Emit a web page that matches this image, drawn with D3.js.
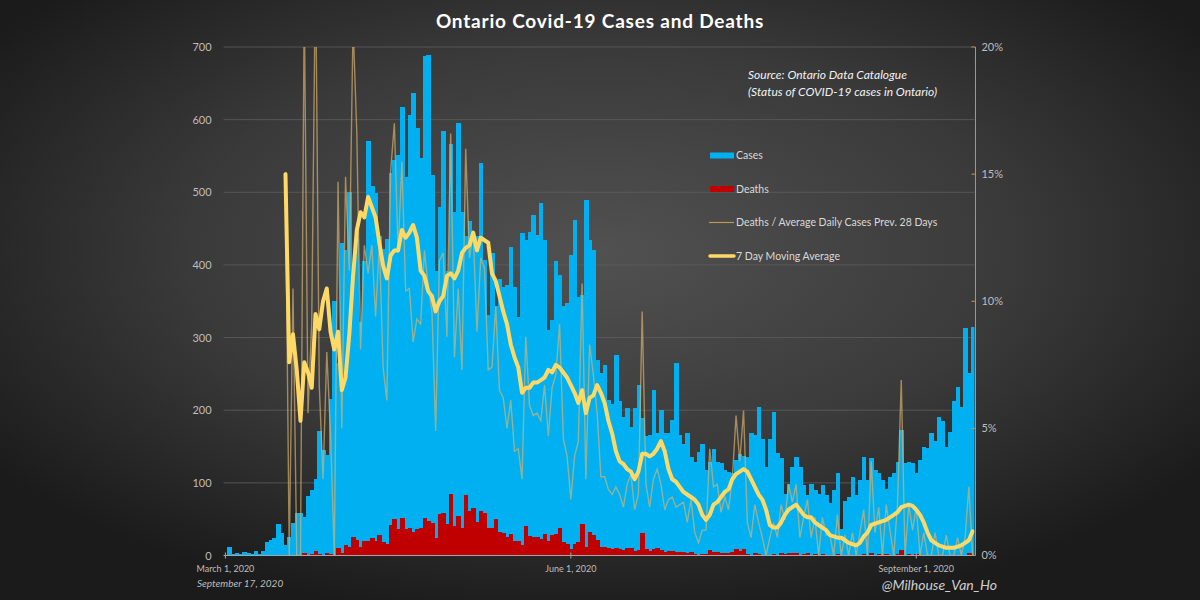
<!DOCTYPE html>
<html><head><meta charset="utf-8">
<script src="https://cdn.jsdelivr.net/npm/d3@7"></script>
<style>html,body{margin:0;padding:0;background:#1e1e1e;} svg{display:block}</style>
</head><body>
<svg id="chart" width="1200" height="600"></svg>
<script>
// ---------------- DATA ----------------
const startDate = "2020-03-01"; // one bar per day, Mar 1 .. Sep 16, 2020
const cases = [
 0,12,2,3,2,5,3,2,6,2,
 6,18,21,24,43,31,14,25,45,59,
 59,53,82,90,105,172,145,138,215,351,
 265,430,420,500,400,437,322,405,570,508,
 499,440,422,436,526,544,551,618,521,607,
 637,588,547,687,689,524,392,480,584,392,
 567,473,595,473,440,460,434,440,540,407,
 331,416,343,380,370,372,425,370,329,444,
 435,446,469,441,485,435,310,324,405,386,
 343,347,414,462,356,359,490,435,420,269,
 251,262,214,209,276,212,191,203,177,203,
 235,189,164,166,228,168,200,168,168,186,
 265,166,154,168,136,129,143,154,118,129,
 147,129,127,118,115,113,131,140,137,136,
 168,166,205,161,122,160,198,141,134,85,
 99,122,136,122,97,83,99,90,85,97,
 83,72,90,113,37,75,81,108,83,104,
 136,104,134,118,113,104,92,108,113,129,
 173,127,129,127,114,132,149,148,169,158,
 190,185,149,170,213,232,204,313,251,315];
const deaths = [
 0,0,0,0,0,0,0,0,0,0,
 0,0,0,0,0,0,1,0,1,0,
 0,3,1,2,6,2,1,3,2,0,
 10,4,14,12,25,22,12,20,20,24,
 20,28,18,16,42,50,37,51,36,38,
 32,37,38,52,48,45,24,57,59,43,
 84,40,54,38,83,61,66,46,61,59,
 38,38,50,33,31,25,30,20,20,14,
 40,27,25,25,23,29,20,28,30,38,
 19,16,9,16,18,43,12,33,28,22,
 12,12,10,9,10,9,7,10,11,6,
 8,31,9,6,9,10,8,5,6,6,
 5,5,5,3,5,2,1,2,2,8,
 5,5,3,4,3,5,9,6,9,2,
 1,3,2,1,0,1,2,1,3,2,
 4,3,4,1,2,3,1,2,0,2,
 1,1,0,2,0,1,0,1,0,1,
 2,0,4,1,2,0,2,1,0,2,
 7,0,2,1,2,0,1,0,0,1,
 0,0,1,0,0,1,0,1,4,0];
// Deaths / average daily cases of previous 28 days, in percent
const ratioPct = [
 null,null,null,null,null,null,null,null,null,null,
 null,null,null,null,null,null,15.0,0,10.5,0,
 0,21.9,5.6,9.2,23.3,6.7,3.0,8.0,4.8,0,
 14.7,5.0,14.9,11.2,20.9,16.6,8.1,12.2,11.1,12.2,
 9.4,12.3,7.4,6.1,15.1,17.0,11.9,15.5,10.4,10.5,
 8.4,9.3,9.1,12.0,10.6,9.6,4.9,11.6,11.9,8.6,
 16.6,7.8,10.5,7.3,16.0,11.7,12.7,8.8,11.7,11.3,
 7.3,7.4,9.8,6.5,6.2,5.0,6.1,4.1,4.2,3.0,
 8.6,5.9,5.5,5.6,5.3,6.7,4.7,6.6,7.1,9.1,
 4.6,3.9,2.2,3.9,4.5,10.7,3.0,8.3,7.1,5.6,
 3.1,3.1,2.6,2.4,2.7,2.4,1.9,2.8,3.2,1.8,
 2.4,9.6,2.8,1.9,3.0,3.4,2.8,1.8,2.2,2.3,
 1.9,2.0,2.1,1.3,2.2,0.9,0.5,1.0,1.0,4.2,
 2.7,2.8,1.7,2.3,1.8,3.0,5.5,3.7,5.7,1.3,
 0.7,2.0,1.3,0.7,0,0.7,1.3,0.7,2.0,1.4,
 2.8,2.1,2.8,0.7,1.5,2.2,0.7,1.5,0,1.5,
 0.8,0.8,0,1.6,0,0.8,0,0.9,0,0.9,
 1.8,0,3.7,0.9,1.9,0,2.0,1.0,0,2.0,
 6.9,0,2.0,1.0,1.9,0,0.9,0,0,0.9,
 0,0,0.8,0,0,0.7,0,0.7,2.7,0];
// 7 day moving average of the ratio, in percent
const ma7Pct = [
 null,null,null,null,null,null,null,null,null,null,
 null,null,null,null,null,null,15.0,7.6,8.7,7.3,
 5.3,7.6,7.2,6.6,9.5,8.9,10.0,10.5,8.8,8.1,
 8.8,6.5,7.0,8.7,11.0,12.8,13.5,13.3,14.1,13.7,
 13.3,12.3,11.4,10.9,11.8,12.0,12.0,12.8,12.5,12.7,
 13.0,12.5,11.2,11.0,10.4,10.2,9.6,10.0,10.2,11.0,
 11.1,10.9,11.2,11.9,12.1,12.2,12.7,12.0,12.5,12.4,
 12.3,11.1,10.8,10.2,9.6,9.1,8.3,7.8,7.4,6.4,
 6.6,6.6,6.8,6.8,6.9,7.0,7.3,7.2,7.5,7.4,
 7.2,7.0,6.7,6.4,6.0,6.5,5.6,6.2,6.3,6.7,
 6.4,6.0,5.3,4.8,4.1,3.7,3.6,3.4,3.3,3.0,
 3.3,4.0,4.0,3.9,4.0,4.2,4.5,4.1,3.4,3.0,
 2.9,2.7,2.5,2.4,2.3,2.2,2.0,1.6,1.4,1.6,
 2.0,2.1,2.3,2.5,2.6,3.0,3.2,3.3,3.4,3.3,
 3.0,2.7,2.4,2.2,1.8,1.2,1.1,1.1,1.3,1.6,
 1.8,1.9,2.0,1.8,1.6,1.5,1.5,1.3,1.2,1.1,
 1.0,0.8,0.75,0.7,0.7,0.6,0.5,0.45,0.4,0.5,
 0.75,0.9,1.2,1.25,1.3,1.35,1.4,1.5,1.6,1.7,
 1.9,1.95,2.0,1.95,1.8,1.6,1.3,0.9,0.6,0.5,
 0.4,0.35,0.3,0.3,0.3,0.35,0.4,0.5,0.6,0.95];
const xTickDates = ["2020-03-01","2020-06-01","2020-09-01"];
const xTickLabels = ["March 1, 2020","June 1, 2020","September 1, 2020"];
const leftTicks = [0,100,200,300,400,500,600,700];
const rightTicks = [0,5,10,15,20];
const legendLabels = ["Cases","Deaths","Deaths / Average Daily Cases Prev. 28 Days","7 Day Moving Average"];

// ---------------- CHART ----------------
const W = 1200, H = 600;
const svg = d3.select("#chart");
const FONT = "Lato, 'Open Sans', sans-serif";

// background radial gradient
const defs = svg.append("defs");
const rg = defs.append("radialGradient").attr("id","bg")
  .attr("cx","50%").attr("cy","42%").attr("r","62%");
rg.append("stop").attr("offset","0%").attr("stop-color","#515151");
rg.append("stop").attr("offset","55%").attr("stop-color","#3a3a3a");
rg.append("stop").attr("offset","100%").attr("stop-color","#1b1b1b");
svg.append("rect").attr("width",W).attr("height",H).attr("fill","url(#bg)");

const parse = d3.utcParse("%Y-%m-%d");
const t0 = parse(startDate);
const rows = cases.map((c,i) => ({date: d3.utcDay.offset(t0,i), cases: c, deaths: deaths[i], ratio: ratioPct[i], ma: ma7Pct[i]}));
const last = rows[rows.length-1].date;

const x = d3.scaleUtc().domain([t0, last]).range([225.4, 972.6]);
const bw = (x(last) - x(t0)) / (rows.length - 1);
const plotL = x(t0) - bw/2, plotR = x(last) + bw/2;
const yTop = 47, yBase = 555.5;
const y = d3.scaleLinear().domain([0,700]).range([yBase, yTop]);
const yR = d3.scaleLinear().domain([0,20]).range([yBase, yTop]);

defs.append("clipPath").attr("id","plotclip").append("rect")
  .attr("x", plotL).attr("y", yTop).attr("width", plotR-plotL).attr("height", yBase-yTop);

// gridlines
svg.append("g").selectAll("line").data(leftTicks.filter(d=>d>0)).join("line")
  .attr("x1", plotL).attr("x2", plotR)
  .attr("y1", d=>y(d)).attr("y2", d=>y(d))
  .attr("stroke","#5e5e5e").attr("stroke-width",0.8);

// left axis labels
svg.append("g").attr("transform",`translate(${plotL-10},0)`)
  .call(d3.axisLeft(y).tickValues(leftTicks).tickSize(0).tickPadding(2))
  .call(g => { g.select(".domain").remove();
    g.selectAll("text").attr("fill","#bdbdbd").style("font-family",FONT).style("font-size","11px"); });

// bars (adjacent, no gap)
const gBars = svg.append("g").attr("clip-path","url(#plotclip)").attr("shape-rendering","crispEdges");
gBars.selectAll("rect.cases").data(rows).join("rect").attr("class","cases")
  .attr("x", d => x(d.date) - bw/2).attr("width", bw + 0.8)
  .attr("y", d => y(d.cases)).attr("height", d => yBase - y(d.cases))
  .attr("fill","#00b0f0");
gBars.selectAll("rect.deaths").data(rows).join("rect").attr("class","deaths")
  .attr("x", d => x(d.date) - bw/2).attr("width", bw + 0.8)
  .attr("y", d => y(d.deaths)).attr("height", d => yBase - y(d.deaths))
  .attr("fill","#c00000");

// lines
const gLines = svg.append("g").attr("clip-path","url(#plotclip)");
const ratioLine = d3.line().defined(d => d.ratio != null).x(d => x(d.date)).y(d => yR(d.ratio));
gLines.append("path").datum(rows).attr("d", ratioLine)
  .attr("fill","none").attr("stroke","#d6b36e").attr("stroke-opacity",0.68).attr("stroke-width",1.4);
const maLine = d3.line().defined(d => d.ma != null).x(d => x(d.date)).y(d => yR(d.ma));
gLines.append("path").datum(rows).attr("d", maLine)
  .attr("fill","none").attr("stroke","#ffd966").attr("stroke-width",4)
  .attr("stroke-linejoin","round").attr("stroke-linecap","round");

// bottom axis
const gx = svg.append("g").attr("transform",`translate(0,${yBase})`);
gx.append("line").attr("x1",plotL).attr("x2",plotR).attr("stroke","#a6a6a6").attr("stroke-width",1);
const xt = xTickDates.map(parse);
gx.selectAll("line.tk").data(xt).join("line").attr("class","tk")
  .attr("x1", d=>x(d)).attr("x2", d=>x(d)).attr("y1",-3).attr("y2",3)
  .attr("stroke","#a6a6a6");
gx.selectAll("text").data(xt).join("text")
  .attr("x", d=>x(d)).attr("y", 16).attr("text-anchor","middle")
  .attr("fill","#bdbdbd").style("font-family",FONT).style("font-size","9px")
  .text((d,i)=>xTickLabels[i]);

// right axis
const gr = svg.append("g");
gr.append("line").attr("x1",plotR+1).attr("x2",plotR+1).attr("y1",yTop).attr("y2",yBase)
  .attr("stroke","#b89a52").attr("stroke-width",1);
gr.selectAll("line.tk").data(rightTicks).join("line").attr("class","tk")
  .attr("x1",plotR+1).attr("x2",plotR-3).attr("y1",d=>yR(d)).attr("y2",d=>yR(d))
  .attr("stroke","#b89a52");
gr.selectAll("text").data(rightTicks).join("text")
  .attr("x", plotR+7).attr("y", d=>yR(d)).attr("dy","0.35em")
  .attr("fill","#bdbdbd").style("font-family",FONT).style("font-size","11px")
  .text(d => d + "%");

// title
svg.append("text").attr("x",600).attr("y",28).attr("text-anchor","middle")
  .attr("fill","#ffffff").style("font-family",FONT).style("font-weight","700")
  .style("font-size","19px").style("letter-spacing","0.8px")
  .text("Ontario Covid-19 Cases and Deaths");

// source
const src = svg.append("text").attr("fill","#f2f2f2").style("font-family",FONT)
  .style("font-style","italic").style("font-size","12px");
src.append("tspan").attr("x",748).attr("y",79).text("Source: Ontario Data Catalogue");
src.append("tspan").attr("x",748).attr("y",96).text("(Status of COVID-19 cases in Ontario)");

// legend
const lg = svg.append("g").style("font-family",FONT).style("font-size","10.5px");
const ly = [155.5, 189, 222.5, 256];
lg.append("rect").attr("x",710).attr("y",ly[0]-3).attr("width",24).attr("height",6).attr("fill","#00b0f0");
lg.append("rect").attr("x",710).attr("y",ly[1]-3).attr("width",24).attr("height",6).attr("fill","#c00000");
lg.append("line").attr("x1",709).attr("x2",734).attr("y1",ly[2]).attr("y2",ly[2])
  .attr("stroke","#b8995a").attr("stroke-width",1.2);
lg.append("line").attr("x1",710).attr("x2",734).attr("y1",ly[3]).attr("y2",ly[3])
  .attr("stroke","#ffd966").attr("stroke-width",3.5).attr("stroke-linecap","round");
lg.selectAll("text").data(legendLabels).join("text")
  .attr("x",736).attr("y",(d,i)=>ly[i]).attr("dy","0.35em")
  .attr("fill","#d9d9d9").text(d=>d);

// footer
svg.append("text").attr("x",197).attr("y",587).attr("fill","#bdbdbd")
  .style("font-family",FONT).style("font-style","italic").style("font-size","10px")
  .text("September 17, 2020");
svg.append("text").attr("x",997).attr("y",590).attr("text-anchor","end").attr("fill","#cfcfcf")
  .style("font-family",FONT).style("font-style","italic").style("font-size","14px")
  .text("@Milhouse_Van_Ho");
</script>
</body></html>
